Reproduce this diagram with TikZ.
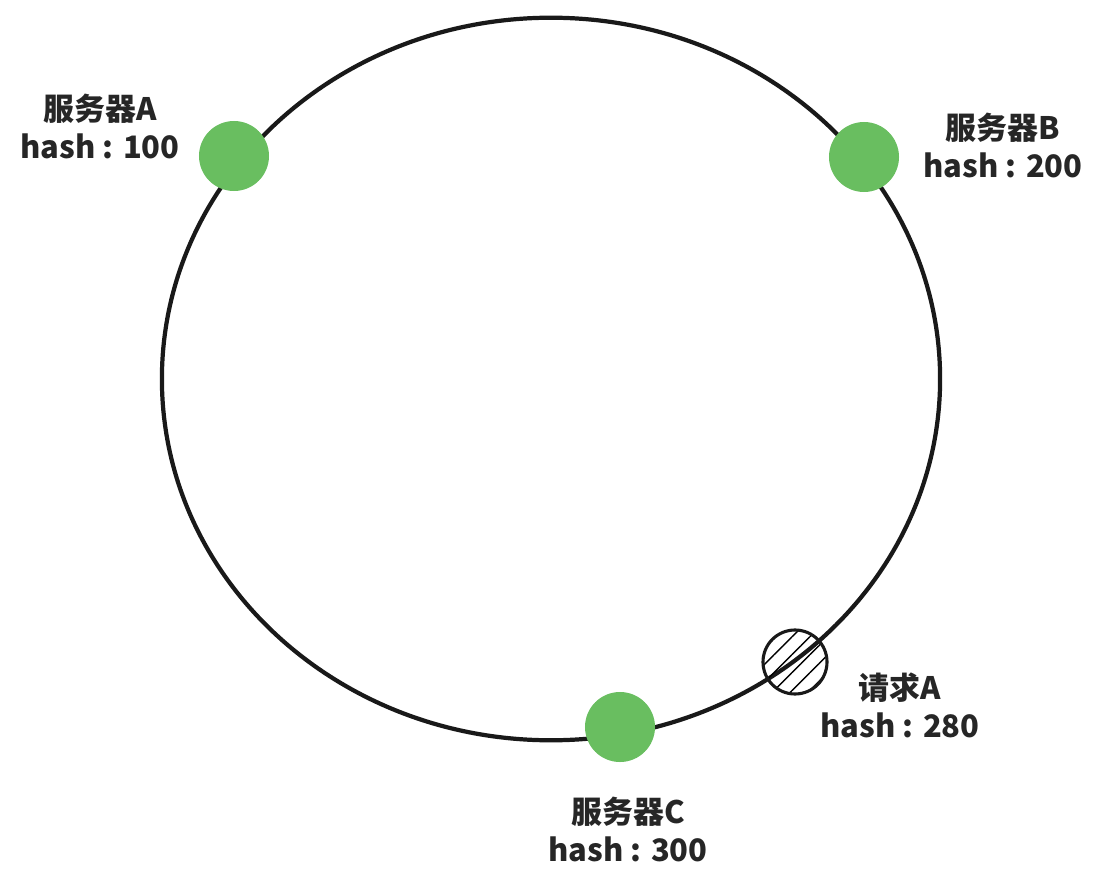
\documentclass[tikz,border=0pt]{standalone}
\usepackage{fontspec}
\setmainfont{Noto Sans CJK SC}
\usetikzlibrary{patterns.meta}
\definecolor{dotgreen}{RGB}{105,190,96}

\begin{document}
\begin{tikzpicture}[x=0.025cm, y=-0.025cm,
ring/.style={line width=3pt, black!90},
server/.style={circle, fill=dotgreen, minimum size=1.75cm, inner sep=0pt},
request/.style={circle, draw=black!90, line width=2.2pt, minimum size=1.6cm, inner sep=0pt,
  pattern={Lines[angle=45, distance=9pt, line width=1pt]}},
tag/.style={align=center, font=\fontsize{22}{27}\selectfont\bfseries, text=black!85}]

\useasboundingbox (0,0) rectangle (1100,874);

% the ring
\draw[ring] (551,379) ellipse [x radius=9.725cm, y radius=9.03cm];

% servers and request
\node[server] (srvA) at (234,156) {};
\node[server] (srvB) at (864,157) {};
\node[server] (srvC) at (620,727) {};
\node[request] (reqA) at (795,662) {};

\node[tag] (labA) at (100,126) {服务器A\\hash : 100};
\node[tag] (labB) at (1003,145) {服务器B\\hash : 200};
\node[tag] (labC) at (628,829) {服务器C\\hash : 300};
\node[tag] (labR) at (900,705) {请求A\\hash : 280};

\end{tikzpicture}
\end{document}
